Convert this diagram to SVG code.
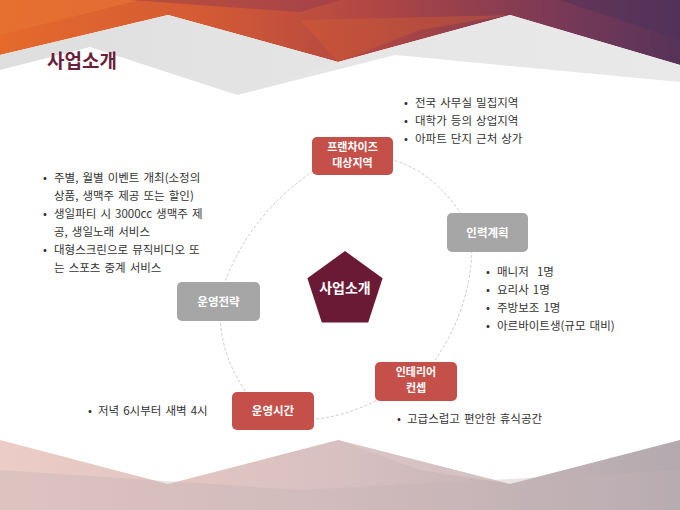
<svg xmlns="http://www.w3.org/2000/svg" width="680" height="510" viewBox="0 0 680 510">
<defs>
  <linearGradient id="topG" x1="0" y1="0" x2="1" y2="0">
    <stop offset="0" stop-color="#e56a2c"/>
    <stop offset="0.3" stop-color="#d35a34"/>
    <stop offset="0.55" stop-color="#b04644"/>
    <stop offset="0.8" stop-color="#7e3a55"/>
    <stop offset="1" stop-color="#56335a"/>
  </linearGradient>
  <linearGradient id="grayG" x1="0" y1="0" x2="1" y2="0">
    <stop offset="0" stop-color="#dedede"/>
    <stop offset="0.5" stop-color="#e6e6e6"/>
    <stop offset="1" stop-color="#e9e9e9"/>
  </linearGradient>
  <linearGradient id="botG" x1="0" y1="0" x2="1" y2="0">
    <stop offset="0" stop-color="#ecccc6"/>
    <stop offset="0.5" stop-color="#d8c0c0"/>
    <stop offset="1" stop-color="#b3a9ae"/>
  </linearGradient>
  <style>
    .t{font-family:"Noto Sans CJK KR","Noto Sans",sans-serif;font-size:11.5px;fill:#333333;word-spacing:1.5px}
    .lbl{font-family:"Noto Sans CJK KR","Noto Sans",sans-serif;font-size:11.5px;fill:#ffffff;font-weight:bold;text-anchor:middle}
    .lbl2{font-size:11px}
    .red{fill:#c5504a}
    .gray{fill:#a6a6a6}
    .conn{fill:none;stroke:#cccccc;stroke-width:1;stroke-dasharray:3 2}
  </style>
</defs>

<!-- background -->
<rect x="0" y="0" width="680" height="510" fill="#ffffff"/>
<polygon points="0,0 680,0 680,65 510,15 338,62 168,15 0,55" fill="url(#topG)"/>
<polygon points="0,0 140,0 0,35" fill="#e87533" opacity="0.6"/>
<polygon points="130,0 340,0 300,12" fill="#8e3a52" opacity="0.45"/>
<polygon points="338,62 420,30 510,15 300,20" fill="#d9622f" opacity="0.35"/>
<polygon points="560,0 680,0 680,40" fill="#4e325a" opacity="0.5"/>
<polygon points="0,55 168,15 338,62 510,15 680,65 680,82 395,55 237,95 90,47 0,70" fill="url(#grayG)"/>
<polygon points="168,15 338,62 237,95" fill="#e2e2e2" opacity="0.6"/>

<polygon points="0,440 168,484 338,440 510,484 680,440 680,510 0,510" fill="url(#botG)"/>
<polygon points="0,470 300,490 680,470 680,510 0,510" fill="#c4b2b5" opacity="0.35"/>
<polygon points="338,440 510,484 420,470" fill="#e0cccc" opacity="0.5"/>

<text x="47" y="68" font-family="'Noto Sans CJK KR','Noto Sans',sans-serif" font-size="19" font-weight="bold" fill="#6b1f3a">사업소개</text>

<!-- connectors -->
<g id="connectors">
  <path class="conn" d="M385,158 Q435,169 466,222"/>
  <path class="conn" d="M472,245 Q471.5,312.5 428,370"/>
  <path class="conn" d="M385,396 Q345.5,418 305,420"/>
  <path class="conn" d="M248,395 Q221,357.5 220,315"/>
  <path class="conn" d="M222,290 Q248.5,213 318,168"/>
</g>

<!-- center -->
<g id="center">
  <polygon points="345,251 382.6,278.3 368.2,322.5 321.8,322.5 307.4,278.3" fill="#6b1a35"/>
  <text x="345" y="293" font-family="'Noto Sans CJK KR','Noto Sans',sans-serif" font-size="14" font-weight="bold" fill="#ffffff" text-anchor="middle">사업소개</text>
</g>

<g id="franchise">
  <rect class="red" x="312" y="137" width="81" height="38" rx="5"/>
  <text class="lbl lbl2" x="352.5" y="150.5">프랜차이즈</text>
  <text class="lbl lbl2" x="352.5" y="166.5">대상지역</text>
</g>

<g id="manpower">
  <rect class="gray" x="447" y="213" width="81" height="39" rx="5"/>
  <text class="lbl" x="487.5" y="236.5">인력계획</text>
</g>

<g id="interior">
  <rect class="red" x="375" y="362" width="82" height="39" rx="5"/>
  <text class="lbl lbl2" x="416" y="375.5">인테리어</text>
  <text class="lbl lbl2" x="416" y="391.5">컨셉</text>
</g>

<g id="hours">
  <rect class="red" x="232" y="392" width="82" height="38" rx="5"/>
  <text class="lbl" x="273" y="415">운영시간</text>
</g>

<g id="strategy">
  <rect class="gray" x="177" y="282" width="83" height="39" rx="5"/>
  <text class="lbl" x="218.5" y="305.5">운영전략</text>
</g>

<!-- bullet texts -->
<g id="franchise-notes">
  <text class="t" x="404" y="107">•<tspan x="415">전국 사무실 밀집지역</tspan></text>
  <text class="t" x="404" y="125">•<tspan x="415">대학가 등의 상업지역</tspan></text>
  <text class="t" x="404" y="143">•<tspan x="415">아파트 단지 근처 상가</tspan></text>
</g>
<g id="strategy-notes">
  <text class="t" x="43" y="182">•<tspan x="54">주별, 월별 이벤트 개최(소정의</tspan></text>
  <text class="t" x="54" y="200">상품, 생맥주 제공 또는 할인)</text>
  <text class="t" x="43" y="218">•<tspan x="54">생일파티 시 3000cc 생맥주 제</tspan></text>
  <text class="t" x="54" y="236">공, 생일노래 서비스</text>
  <text class="t" x="43" y="254">•<tspan x="54">대형스크린으로 뮤직비디오 또</tspan></text>
  <text class="t" x="54" y="272">는 스포츠 중계 서비스</text>
</g>
<g id="manpower-notes">
  <text class="t" x="486" y="276">•<tspan x="497" xml:space="preserve">매니저  1명</tspan></text>
  <text class="t" x="486" y="294">•<tspan x="497">요리사 1명</tspan></text>
  <text class="t" x="486" y="312">•<tspan x="497">주방보조 1명</tspan></text>
  <text class="t" x="486" y="330">•<tspan x="497">아르바이트생(규모 대비)</tspan></text>
</g>
<g id="hours-notes">
  <text class="t" x="88" y="415">•<tspan x="98">저녁 6시부터 새벽 4시</tspan></text>
</g>
<g id="interior-notes">
  <text class="t" x="397" y="423">•<tspan x="407">고급스럽고 편안한 휴식공간</tspan></text>
</g>
</svg>
